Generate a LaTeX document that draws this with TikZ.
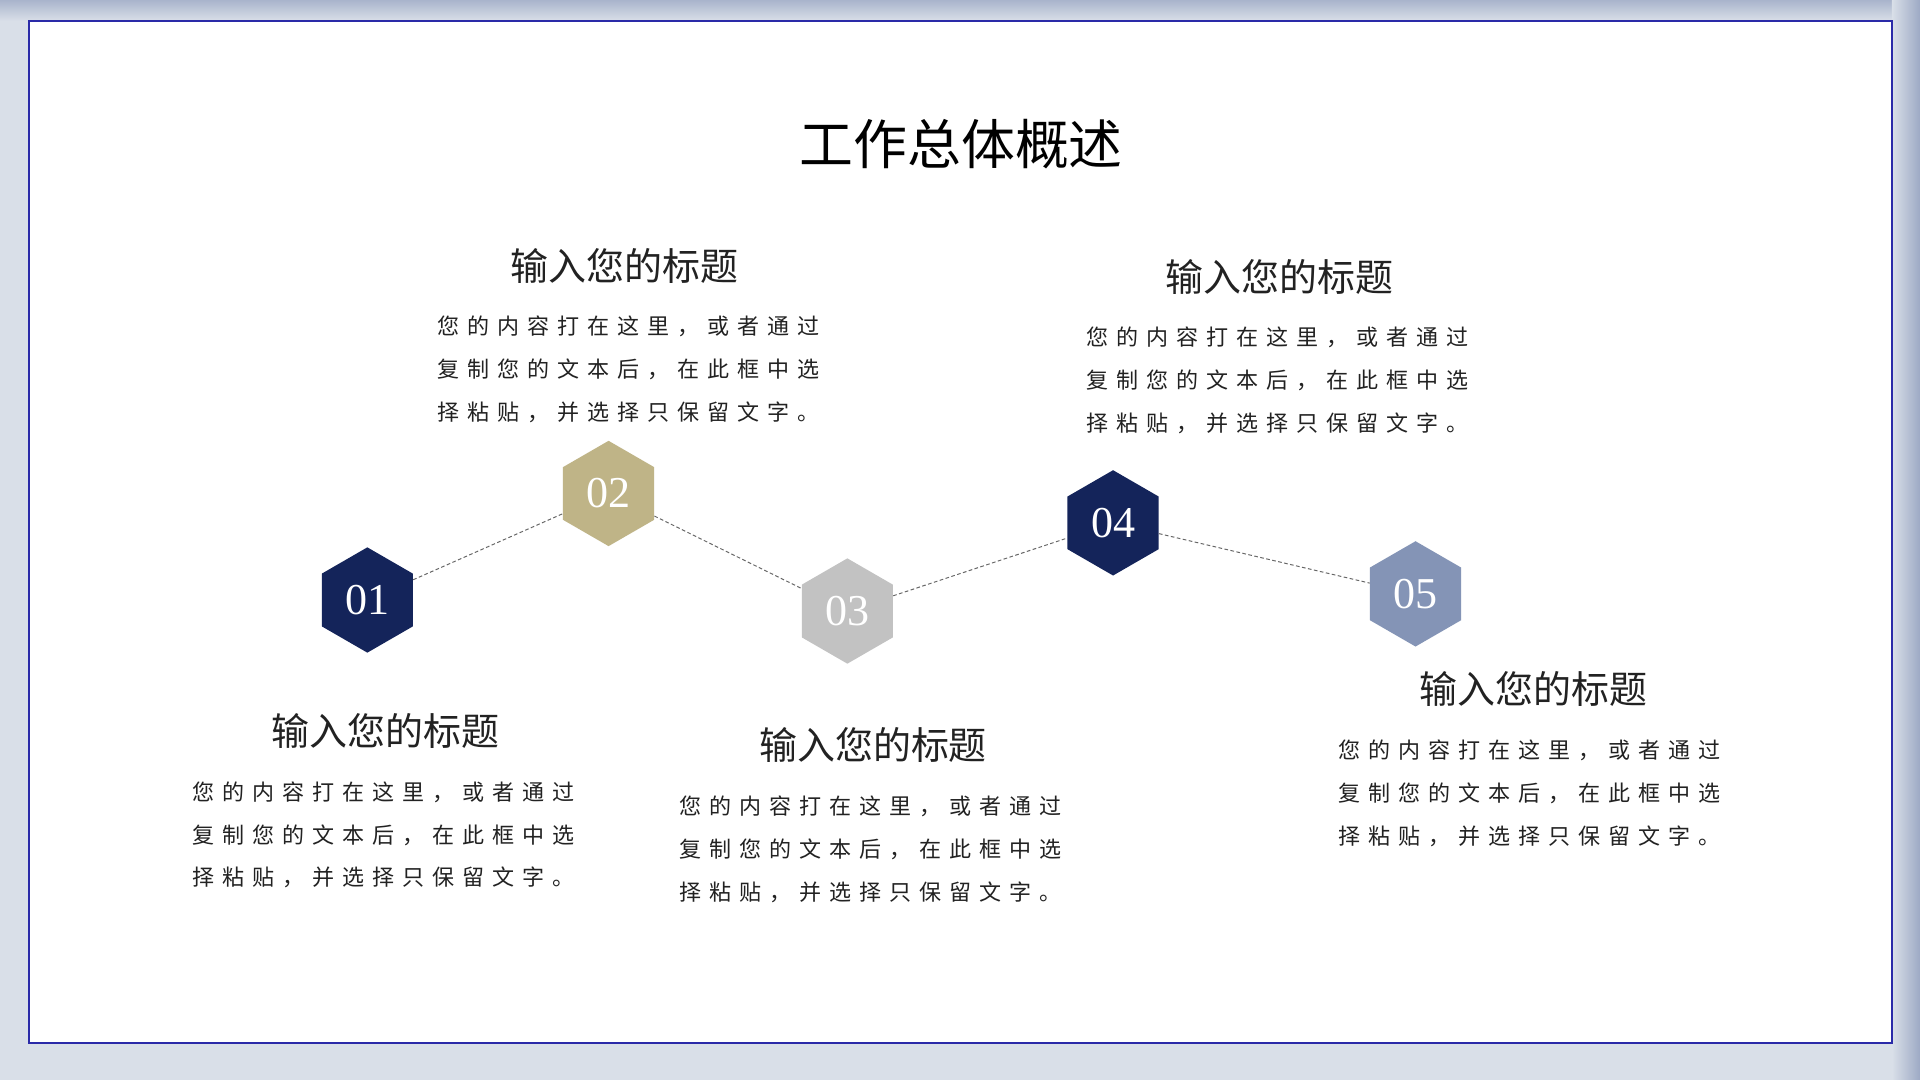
\documentclass[tikz,border=0pt]{standalone}
\usepackage{fontspec}
\setmainfont{Liberation Serif}
\newfontfamily\cjk{Noto Sans CJK SC}
\newfontfamily\cjkbody[LetterSpace=36]{Noto Sans CJK SC}
\usetikzlibrary{shapes.geometric}
\definecolor{navy}{HTML}{14245A}
\definecolor{gold}{HTML}{BFB487}
\definecolor{grayhex}{HTML}{C2C2C2}
\definecolor{slate}{HTML}{8494B6}
\definecolor{framec}{HTML}{2A2AA8}
\definecolor{bgc}{HTML}{D9DFE8}
\definecolor{txt}{HTML}{222222}
\tikzset{
 hexn/.style={regular polygon,regular polygon sides=6,shape border rotate=30,minimum size=86pt,inner sep=0pt,text=white,font=\fontsize{36}{36}\selectfont},
 link/.style={densely dashed,draw=gray!80!black,line width=0.8pt},
 head/.style={font=\cjk\fontsize{31}{32}\selectfont,text=txt},
 bodyt/.style={anchor=north west,align=left,inner sep=0pt,font=\cjkbody\fontsize{18}{35}\selectfont,text=txt}
}
\begin{document}
\begin{tikzpicture}[x=1pt,y=-1pt]
\useasboundingbox (0,0) rectangle (1568,882);
\fill[bgc] (0,0) rectangle (1568,882);
\fill[top color=slate!70,bottom color=bgc] (0,0) rectangle (1568,17);
\fill[left color=bgc,right color=slate!80] (1545,0) rectangle (1568,882);
\draw[framec,line width=1.5pt,fill=white] (24,17) rectangle (1545,852);
\node[font=\cjk\fontsize{44}{46}\selectfont,text=black] (title) at (785,118) {工作总体概述};
\node[hexn,fill=navy] (h1) at (300,490) {01};
\node[hexn,fill=gold] (h2) at (497,403) {02};
\node[hexn,fill=grayhex] (h3) at (692,499) {03};
\node[hexn,fill=navy] (h4) at (909,427) {04};
\node[hexn,fill=slate] (h5) at (1156,485) {05};
\draw[link] (h1) -- (h2);
\draw[link] (h2) -- (h3);
\draw[link] (h3) -- (h4);
\draw[link] (h4) -- (h5);
\newcommand{\bodytext}{您的内容打在这里，或者通过\\复制您的文本后，在此框中选\\择粘贴，并选择只保留文字。}
\node[head] (t1) at (315,597) {输入您的标题};
\node[bodyt] (b1) at (157,638) {\bodytext};
\node[head] (t2) at (510,217) {输入您的标题};
\node[bodyt] (b2) at (357,258) {\bodytext};
\node[head] (t3) at (713,608) {输入您的标题};
\node[bodyt] (b3) at (555,650) {\bodytext};
\node[head] (t4) at (1045,226) {输入您的标题};
\node[bodyt] (b4) at (887,267) {\bodytext};
\node[head] (t5) at (1252,563) {输入您的标题};
\node[bodyt] (b5) at (1093,604) {\bodytext};
\end{tikzpicture}
\end{document}
